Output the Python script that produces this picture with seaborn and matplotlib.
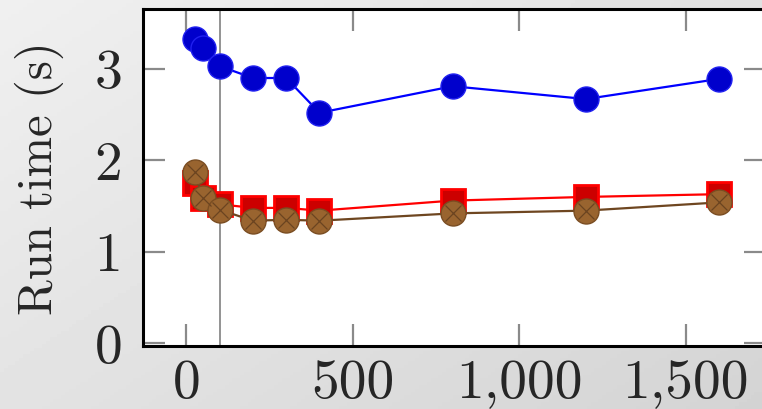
import numpy as np
import pandas as pd
import matplotlib
matplotlib.use("Agg")
import matplotlib.pyplot as plt
import seaborn as sns

# values
sizes = [25, 50, 100, 200, 300, 400, 800, 1200, 1600]
blue_times = [3.33, 3.23, 3.03, 2.90, 2.90, 2.52, 2.81, 2.67, 2.89]
red_times = [1.75, 1.59, 1.52, 1.48, 1.48, 1.45, 1.56, 1.60, 1.63]
brown_times = [1.87, 1.59, 1.46, 1.34, 1.35, 1.34, 1.42, 1.45, 1.54]
marker_line = 100

x_ticks = [0, 500, 1000, 1500]
x_tick_labels = ["0", "500", "1,000", "1,500"]
y_ticks = [0, 1, 2, 3]
y_tick_labels = ["0", "1", "2", "3"]

sns.set_style("white")
plt.rcParams["font.family"] = ["cmr10", "DejaVu Serif"]
plt.rcParams["axes.formatter.use_mathtext"] = True

fig = plt.figure(figsize=(7.62, 4.09), dpi=100)

# grey gradient background
bg = fig.add_axes([0, 0, 1, 1], zorder=-10)
gx, gy = np.meshgrid(np.linspace(0, 1, 200), np.linspace(0, 1, 120))
grad = 0.94 - 0.06 * gx - 0.05 * gy
bg.imshow(grad, cmap="gray", vmin=0, vmax=1, aspect="auto", extent=[0, 1, 0, 1])
bg.axis("off")

ax = fig.add_axes([0.1877, 0.154, 0.817, 0.823])
ax.set_facecolor("white")

df = pd.DataFrame({"size": sizes, "blue": blue_times,
                   "red": red_times, "brown": brown_times})

ax.axvline(marker_line, color="#808080", lw=1.2, zorder=1)

sns.lineplot(data=df, x="size", y="blue", ax=ax, color="#0000ff", lw=1.6,
             marker="o", markersize=18, markerfacecolor="#0000cc",
             markeredgecolor="#2020f0", markeredgewidth=1, zorder=3)
sns.lineplot(data=df, x="size", y="red", ax=ax, color="#ff0000", lw=1.6,
             marker="s", markersize=17.5, markerfacecolor="#cc0000",
             markeredgecolor="#ff0000", markeredgewidth=2, zorder=4)
sns.lineplot(data=df, x="size", y="brown", ax=ax, color="#6e4620", lw=1.6,
             marker="o", markersize=18, markerfacecolor="#99642f",
             markeredgecolor="#7a4d22", markeredgewidth=1, zorder=5)
ax.plot(df["size"], df["brown"], ls="none", marker="x", markersize=11,
        markeredgecolor="#6b4420", markeredgewidth=0.9, zorder=6)

ax.set_xlim(-130, 1740)
ax.set_ylim(-0.03, 3.65)
ax.set_xticks(x_ticks)
ax.set_xticklabels(x_tick_labels)
ax.set_yticks(y_ticks)
ax.set_yticklabels(y_tick_labels)
ax.tick_params(direction="in", length=16, width=1.6, color="#8a8a8a",
               top=True, right=True, bottom=True, left=True,
               labelsize=40, pad=10)
ax.tick_params(axis="y", pad=15)
ax.set_xlabel("")
ax.set_ylabel("Run time (s)", fontsize=35, labelpad=22)
for s in ax.spines.values():
    s.set_color("black")
    s.set_linewidth(2.2)
    s.set_visible(True)

fig.savefig("out.png", dpi=100)
